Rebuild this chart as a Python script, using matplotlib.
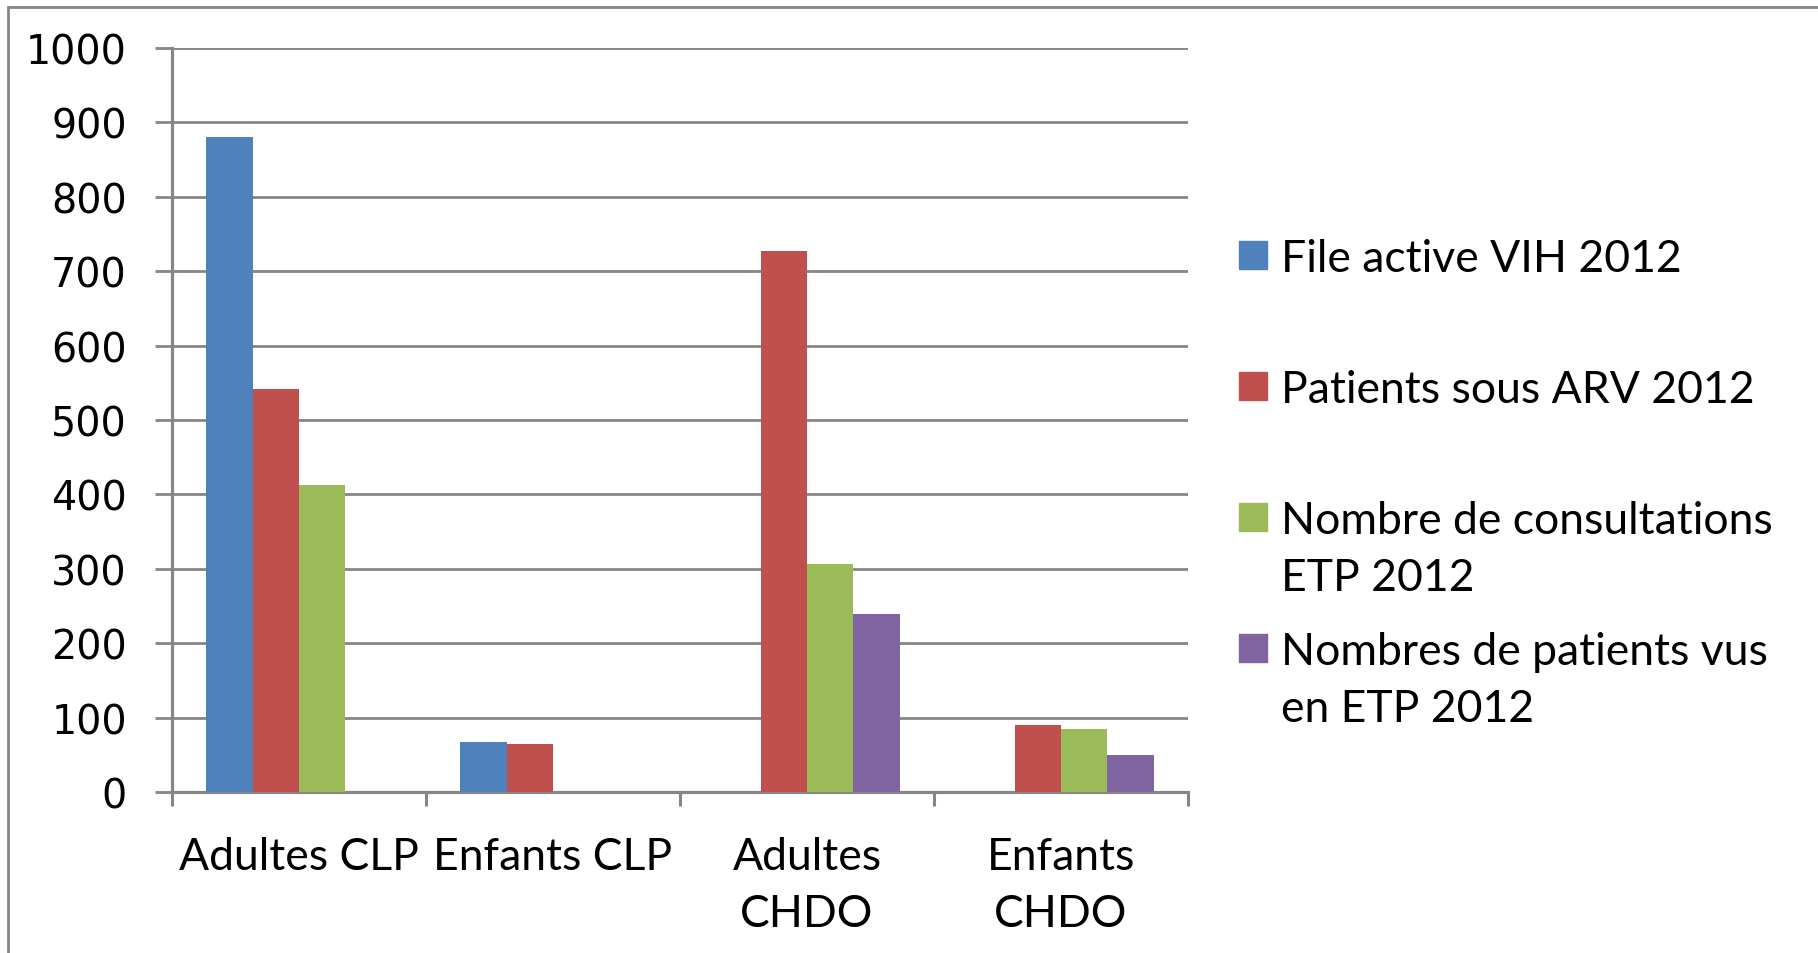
import numpy as np
import matplotlib
matplotlib.use("Agg")
import matplotlib.pyplot as plt
from matplotlib.patches import Rectangle

categories = ["Adultes CLP", "Enfants CLP", "Adultes\nCHDO", "Enfants\nCHDO"]
series_names = ["File active VIH 2012", "Patients sous ARV 2012",
                "Nombre de consultations\nETP 2012",
                "Nombres de patients vus\nen ETP 2012"]
file_active = [881, 67, np.nan, np.nan]
patients_arv = [541, 65, 727, 90]
consultations_etp = [413, np.nan, 306, 85]
patients_vus_etp = [np.nan, np.nan, 239, 50]
yticks = [0, 100, 200, 300, 400, 500, 600, 700, 800, 900, 1000]

colors = ["#4F81BD", "#C0504D", "#9BBB59", "#8064A2"]
grid_col = "#868686"

W, H = 1818, 954
fig = plt.figure(figsize=(W / 100, H / 100), dpi=100)
ax = fig.add_axes([172 / W, 1 - 793 / H, (1188 - 172) / W, (793 - 49) / H])

series = [file_active, patients_arv, consultations_etp, patients_vus_etp]
x = np.arange(len(categories))
bw = 0.183
for i, (vals, c) in enumerate(zip(series, colors)):
    ax.bar(x + (i - 1.5) * bw, vals, width=bw, color=c, edgecolor="none",
           zorder=3, label=series_names[i])

ax.set_xlim(-0.5, len(categories) - 0.5)
ax.set_ylim(0, 1000)
ax.set_yticks(yticks)
ax.set_yticklabels([str(t) for t in yticks], fontfamily="DejaVu Sans",
                   fontsize=28.5)
ax.yaxis.grid(True, color=grid_col, linewidth=2.0, zorder=0)
ax.set_axisbelow(True)

ax.set_xticks(np.arange(len(categories) + 1) - 0.5)
ax.set_xticklabels([])
ax.set_xticks(x, minor=True)
ax.set_xticklabels(categories, minor=True, fontfamily="Lato", fontsize=32,
                   linespacing=1.49, va="top")
ax.tick_params(axis="x", which="minor", length=0, pad=31.5)
ax.tick_params(axis="x", which="major", length=10, width=2.2, color=grid_col)
ax.tick_params(axis="y", length=12.5, width=2.0, color=grid_col, pad=20)

for s in ["top", "right"]:
    ax.spines[s].set_visible(False)
for s in ["left", "bottom"]:
    ax.spines[s].set_color(grid_col)
    ax.spines[s].set_linewidth(2.3)

# legend drawn manually
leg_y = [256, 387, 518, 649]
line_gap = 57
for name, c, yc in zip(series_names, colors, leg_y):
    fig.add_artist(Rectangle((1239 / W, 1 - (yc + 14) / H), 28 / W, 28 / H,
                             transform=fig.transFigure, color=c))
    for k, line in enumerate(name.split("\n")):
        fig.text(1281 / W, 1 - (yc + 16 + k * line_gap) / H, line,
                 fontfamily="Lato", fontsize=32, va="baseline", ha="left")

# outer frame (top and left visible)
fig.add_artist(Rectangle((8 / W, -0.1), 1.2, 1 - 8 / H + 0.1,
                         transform=fig.transFigure, fill=False,
                         edgecolor=grid_col, linewidth=2.0))

fig.savefig("out.png", dpi=100)
